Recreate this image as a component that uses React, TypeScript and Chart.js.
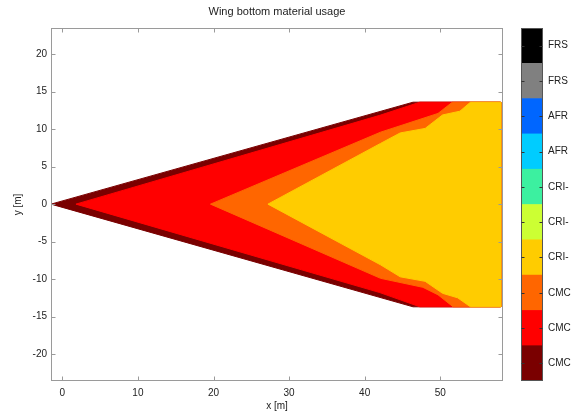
import React, { useEffect, useRef } from 'react';
import { Chart, registerables } from 'chart.js';

Chart.register(...registerables);

// ---------- data ----------
const xTicks = [0, 10, 20, 30, 40, 50];
const yTicks = [-20, -15, -10, -5, 0, 5, 10, 15, 20];

// colorbar, listed bottom to top
const materialLabels = ['CMC', 'CMC', 'CMC', 'CRI-', 'CRI-', 'CRI-', 'AFR', 'AFR', 'FRS', 'FRS'];
const materialColors = ['#7a0000', '#ff0000', '#ff6600', '#ffcc00', '#ccff33', '#3cf0a0', '#00ccff', '#0066ff', '#808080', '#000000'];

// material regions of the wing (closed outlines)
const cmc3X = [-1.5, 46.4, 58.0, 58.0, 46.4, -1.5];
const cmc3Y = [0, 13.6, 13.6, -13.7, -13.7, 0];

const cmc2X = [1.8, 42.0, 47.3, 58.0, 58.0, 47.3, 42.0, 1.8];
const cmc2Y = [0, 11.85, 13.6, 13.6, -13.7, -13.7, -11.8, 0];

const cmc1X = [19.6, 42.1, 49.7, 51.6, 58.0, 58.0, 51.7, 49.7, 47.7, 42.1, 19.6];
const cmc1Y = [0, 9.6, 12.1, 13.6, 13.6, -13.7, -13.7, -12.1, -11.1, -9.9, 0];

const criX = [27.2, 42.1, 44.7, 48.0, 50.3, 52.6, 54.0, 58.0, 58.0, 54.0, 52.3, 50.3, 48.0, 44.7, 42.1, 27.2];
const criY = [0, 8.1, 9.5, 10.1, 11.9, 12.4, 13.6, 13.6, -13.7, -13.7, -12.5, -11.9, -10.3, -9.7, -8.1, 0];

const FONT = "'Liberation Sans', Arial, Helvetica, sans-serif";
const TEXT = '#222222';
const FRAME = '#9a9a9a';

function pts(xs: number[], ys: number[]) {
  return xs.map((x, i) => ({ x, y: ys[i] }));
}

const mainFrame = {
  id: 'mainFrame',
  afterDraw(chart: any) {
    const { ctx, chartArea: a, scales } = chart;
    const L = Math.round(a.left) + 0.5, R = Math.round(a.right) - 0.5;
    const T = Math.round(a.top) + 0.5, B = Math.round(a.bottom) - 0.5;
    ctx.save();
    ctx.strokeStyle = FRAME;
    ctx.lineWidth = 1;
    ctx.strokeRect(L, T, R - L, B - T);
    ctx.beginPath();
    for (const v of xTicks) {
      const p = Math.round(scales.x.getPixelForValue(v)) + 0.5;
      ctx.moveTo(p, B); ctx.lineTo(p, B - 4);
      ctx.moveTo(p, T); ctx.lineTo(p, T + 4);
    }
    for (const v of yTicks) {
      const p = Math.round(scales.y.getPixelForValue(v)) + 0.5;
      ctx.moveTo(L, p); ctx.lineTo(L + 4, p);
      ctx.moveTo(R, p); ctx.lineTo(R - 4, p);
    }
    ctx.stroke();
    ctx.fillStyle = TEXT;
    ctx.textAlign = 'center';
    ctx.textBaseline = 'middle';
    ctx.font = `11px ${FONT}`;
    const cx = (a.left + a.right) / 2;
    ctx.fillText('Wing bottom material usage', cx, 12);
    ctx.font = `10px ${FONT}`;
    ctx.fillText('x [m]', cx, 406);
    ctx.translate(18, (a.top + a.bottom) / 2);
    ctx.rotate(-Math.PI / 2);
    ctx.fillText('y [m]', 0, 0);
    ctx.restore();
  },
};

const barFrame = {
  id: 'barFrame',
  afterDraw(chart: any) {
    const { ctx, chartArea: a, scales } = chart;
    const L = Math.round(a.left) + 0.5, R = Math.round(a.right) - 0.5;
    const T = Math.round(a.top) + 0.5, B = Math.round(a.bottom) - 0.5;
    ctx.save();
    ctx.strokeStyle = '#555555';
    ctx.lineWidth = 1;
    ctx.strokeRect(L, T, R - L, B - T);
    ctx.strokeStyle = '#333333';
    ctx.beginPath();
    materialLabels.forEach((_, i) => {
      const p = Math.round(scales.y.getPixelForValue(i + 0.5)) + 0.5;
      ctx.moveTo(L, p); ctx.lineTo(L + 3, p);
      ctx.moveTo(R, p); ctx.lineTo(R - 3, p);
    });
    ctx.stroke();
    ctx.restore();
  },
};

export default function App() {
  const mainRef = useRef<HTMLCanvasElement>(null);
  const barRef = useRef<HTMLCanvasElement>(null);

  useEffect(() => {
    document.body.style.margin = '0';
    const regions = [
      { xs: criX, ys: criY, color: materialColors[3] },
      { xs: cmc1X, ys: cmc1Y, color: materialColors[2] },
      { xs: cmc2X, ys: cmc2Y, color: materialColors[1] },
      { xs: cmc3X, ys: cmc3Y, color: materialColors[0] },
    ];
    const tickFont = { family: FONT, size: 10 };
    const main = new Chart(mainRef.current!, {
      type: 'line',
      data: {
        datasets: regions.map((r) => ({
          data: pts(r.xs, r.ys),
          backgroundColor: r.color,
          borderColor: r.color,
          borderWidth: 1,
          pointRadius: 0,
          fill: 'shape',
          tension: 0,
        })),
      },
      options: {
        animation: false,
        responsive: false,
        maintainAspectRatio: false,
        events: [],
        layout: { padding: { left: 0, top: 28, right: 71, bottom: 0 } },
        plugins: { legend: { display: false }, tooltip: { enabled: false }, title: { display: false } },
        scales: {
          x: {
            type: 'linear',
            min: -1.5,
            max: 58.3,
            afterBuildTicks: (s: any) => { s.ticks = xTicks.map((v) => ({ value: v })); },
            afterFit: (s: any) => { s.height = 34; },
            grid: { display: false, drawTicks: false },
            border: { display: false },
            ticks: { font: tickFont, color: TEXT, padding: 6, maxRotation: 0 },
          },
          y: {
            type: 'linear',
            min: -23.6,
            max: 23.5,
            afterBuildTicks: (s: any) => { s.ticks = yTicks.map((v) => ({ value: v })); },
            afterFit: (s: any) => { s.width = 51; },
            grid: { display: false, drawTicks: false },
            border: { display: false },
            ticks: { font: tickFont, color: TEXT, padding: 4 },
          },
        },
      } as any,
      plugins: [mainFrame],
    });

    const bar = new Chart(barRef.current!, {
      type: 'bar',
      data: {
        labels: [''],
        datasets: materialLabels.map((lab, i) => ({
          label: lab,
          data: [1],
          backgroundColor: materialColors[i],
          borderWidth: 0,
          barPercentage: 1,
          categoryPercentage: 1,
        })),
      },
      options: {
        animation: false,
        responsive: false,
        maintainAspectRatio: false,
        events: [],
        layout: { padding: { left: 521, top: 28, right: 0, bottom: 34 } },
        plugins: { legend: { display: false }, tooltip: { enabled: false } },
        scales: {
          x: { display: false, stacked: true },
          y: {
            position: 'right',
            stacked: true,
            min: 0,
            max: 10,
            afterBuildTicks: (s: any) => { s.ticks = materialLabels.map((_, i) => ({ value: i + 0.5 })); },
            afterFit: (s: any) => { s.width = 31; },
            grid: { display: false, drawTicks: false },
            border: { display: false },
            ticks: {
              font: tickFont,
              color: TEXT,
              padding: 5,
              callback: (_v: any, i: number) => materialLabels[i],
            },
          },
        },
      } as any,
      plugins: [barFrame],
    });

    return () => { main.destroy(); bar.destroy(); };
  }, []);

  const cs: React.CSSProperties = { position: 'absolute', left: 0, top: 0, width: 574, height: 415 };
  return (
    <div style={{ position: 'fixed', left: 0, top: 0, width: 574, height: 415, background: '#ffffff' }}>
      <canvas ref={mainRef} width={574} height={415} style={cs} />
      <canvas ref={barRef} width={574} height={415} style={{ ...cs, pointerEvents: 'none' }} />
    </div>
  );
}
